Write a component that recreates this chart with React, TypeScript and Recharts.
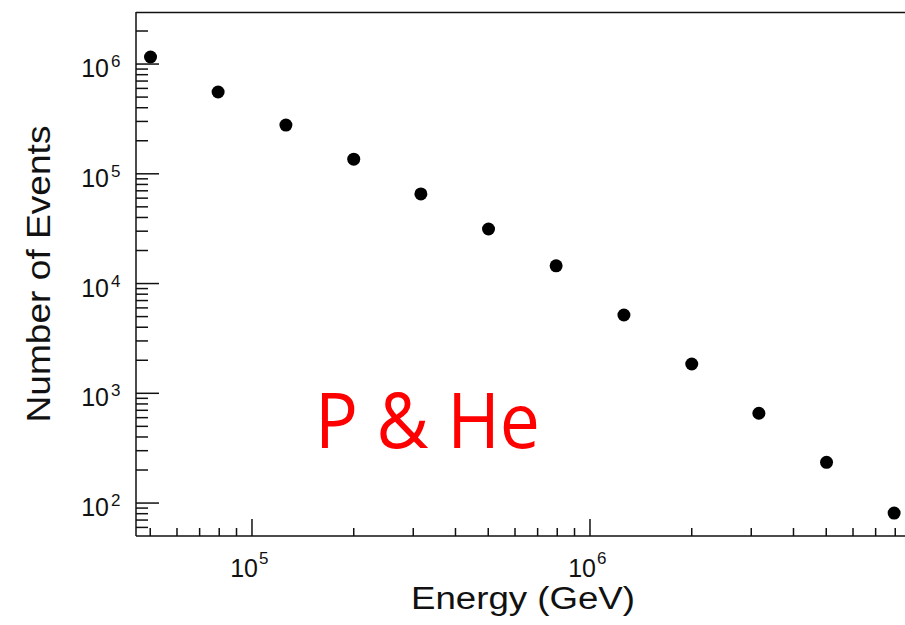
import { Scatter, ScatterChart, XAxis, YAxis } from "recharts";

const energies = [5.01e4, 7.94e4, 1.26e5, 2.0e5, 3.16e5, 5.01e5, 7.94e5, 1.26e6, 2.0e6, 3.16e6, 5.01e6, 7.94e6];
const events = [1.16e6, 5.56e5, 2.78e5, 1.36e5, 6.55e4, 3.14e4, 1.45e4, 5.17e3, 1.85e3, 658, 235, 81];

const xMajor = [1e5, 1e6];
const xMinor = [5e4, 6e4, 7e4, 8e4, 9e4, 2e5, 3e5, 4e5, 5e5, 6e5, 7e5, 8e5, 9e5, 2e6, 3e6, 4e6, 5e6, 6e6, 7e6, 8e6];
const yMajor = [1e2, 1e3, 1e4, 1e5, 1e6];
const yMinor = [60, 70, 80, 90, 2e2, 3e2, 4e2, 5e2, 6e2, 7e2, 8e2, 9e2, 2e3, 3e3, 4e3, 5e3, 6e3, 7e3, 8e3, 9e3,
  2e4, 3e4, 4e4, 5e4, 6e4, 7e4, 8e4, 9e4, 2e5, 3e5, 4e5, 5e5, 6e5, 7e5, 8e5, 9e5, 2e6];

const data = energies.map((e, i) => ({ energy: e, events: events[i] }));
const font = "'Liberation Sans', Arial, sans-serif";

const isMajor = (v: number, majors: number[]) => majors.some((m) => Math.abs(m - v) / m < 1e-6);

function YTick({ x, y, payload }: any) {
  const v = payload.value as number;
  if (!isMajor(v, yMajor)) {
    return <line x1={x} x2={x + 12} y1={y} y2={y} stroke="#111" strokeWidth={1.5} />;
  }
  const exp = Math.round(Math.log10(v));
  return (
    <g>
      <line x1={x} x2={x + 23} y1={y} y2={y} stroke="#111" strokeWidth={1.5} />
      <text x={x - 27} y={y + 13} textAnchor="end" fontSize={25} fill="#111" fontFamily={font}>10</text>
      <text x={x - 25} y={y + 3} fontSize={17} fill="#111" fontFamily={font}>{exp}</text>
    </g>
  );
}

function XTick({ x, y, payload }: any) {
  const v = payload.value as number;
  if (!isMajor(v, xMajor)) {
    return <line x1={x} x2={x} y1={y} y2={y - 8} stroke="#111" strokeWidth={1.5} />;
  }
  const exp = Math.round(Math.log10(v));
  return (
    <g>
      <line x1={x} x2={x} y1={y} y2={y - 17} stroke="#111" strokeWidth={1.5} />
      <text x={x + 6} y={y + 41} textAnchor="end" fontSize={25} fill="#111" fontFamily={font}>10</text>
      <text x={x + 7} y={y + 28} fontSize={17} fill="#111" fontFamily={font}>{exp}</text>
    </g>
  );
}

const Dot = (props: any) => <circle cx={props.cx} cy={props.cy} r={6.5} fill="#000" />;

export default function App() {
  return (
    <div style={{ position: "absolute", left: 0, top: 0, width: 905, height: 625, background: "#fff" }}>
      <ScatterChart width={905} height={625} margin={{ top: 12, right: 0, left: 0, bottom: 0 }}>
        <XAxis
          dataKey="energy"
          type="number"
          scale="log"
          domain={[45380, 8.55e6]}
          allowDataOverflow
          ticks={[...xMinor, ...xMajor].sort((a, b) => a - b)}
          interval={0}
          height={89}
          tickSize={0}
          tickMargin={0}
          tickLine={false}
          axisLine={{ stroke: "#111", strokeWidth: 1.5 }}
          tick={<XTick />}
        />
        <YAxis
          dataKey="events"
          type="number"
          scale="log"
          domain={[50.1, 2.98e6]}
          allowDataOverflow
          ticks={[...yMinor, ...yMajor].sort((a, b) => a - b)}
          interval={0}
          width={136}
          tickSize={0}
          tickMargin={0}
          tickLine={false}
          axisLine={{ stroke: "#111", strokeWidth: 1.5 }}
          tick={<YTick />}
        />
        <Scatter data={data} shape={<Dot />} isAnimationActive={false} />
      </ScatterChart>
      <svg width={905} height={625} style={{ position: "absolute", left: 0, top: 0, pointerEvents: "none" }}>
        <line x1={136} x2={905} y1={12.5} y2={12.5} stroke="#111" strokeWidth={1.5} />
        <text x={523} y={609} textAnchor="middle" fontSize={31} textLength={224} lengthAdjust="spacingAndGlyphs" fill="#111" fontFamily={font}>
          Energy (GeV)
        </text>
        <text
          transform="translate(50,274) rotate(-90)"
          textAnchor="middle"
          fontSize={33}
          textLength={297}
          lengthAdjust="spacingAndGlyphs"
          fill="#111"
          fontFamily={font}
        >
          Number of Events
        </text>
        <text x={315} y={448} fontSize={76} textLength={225} lengthAdjust="spacingAndGlyphs" fill="#ff0000" fontFamily="'Open Sans', 'Noto Sans', sans-serif">
          P &amp; He
        </text>
      </svg>
    </div>
  );
}
